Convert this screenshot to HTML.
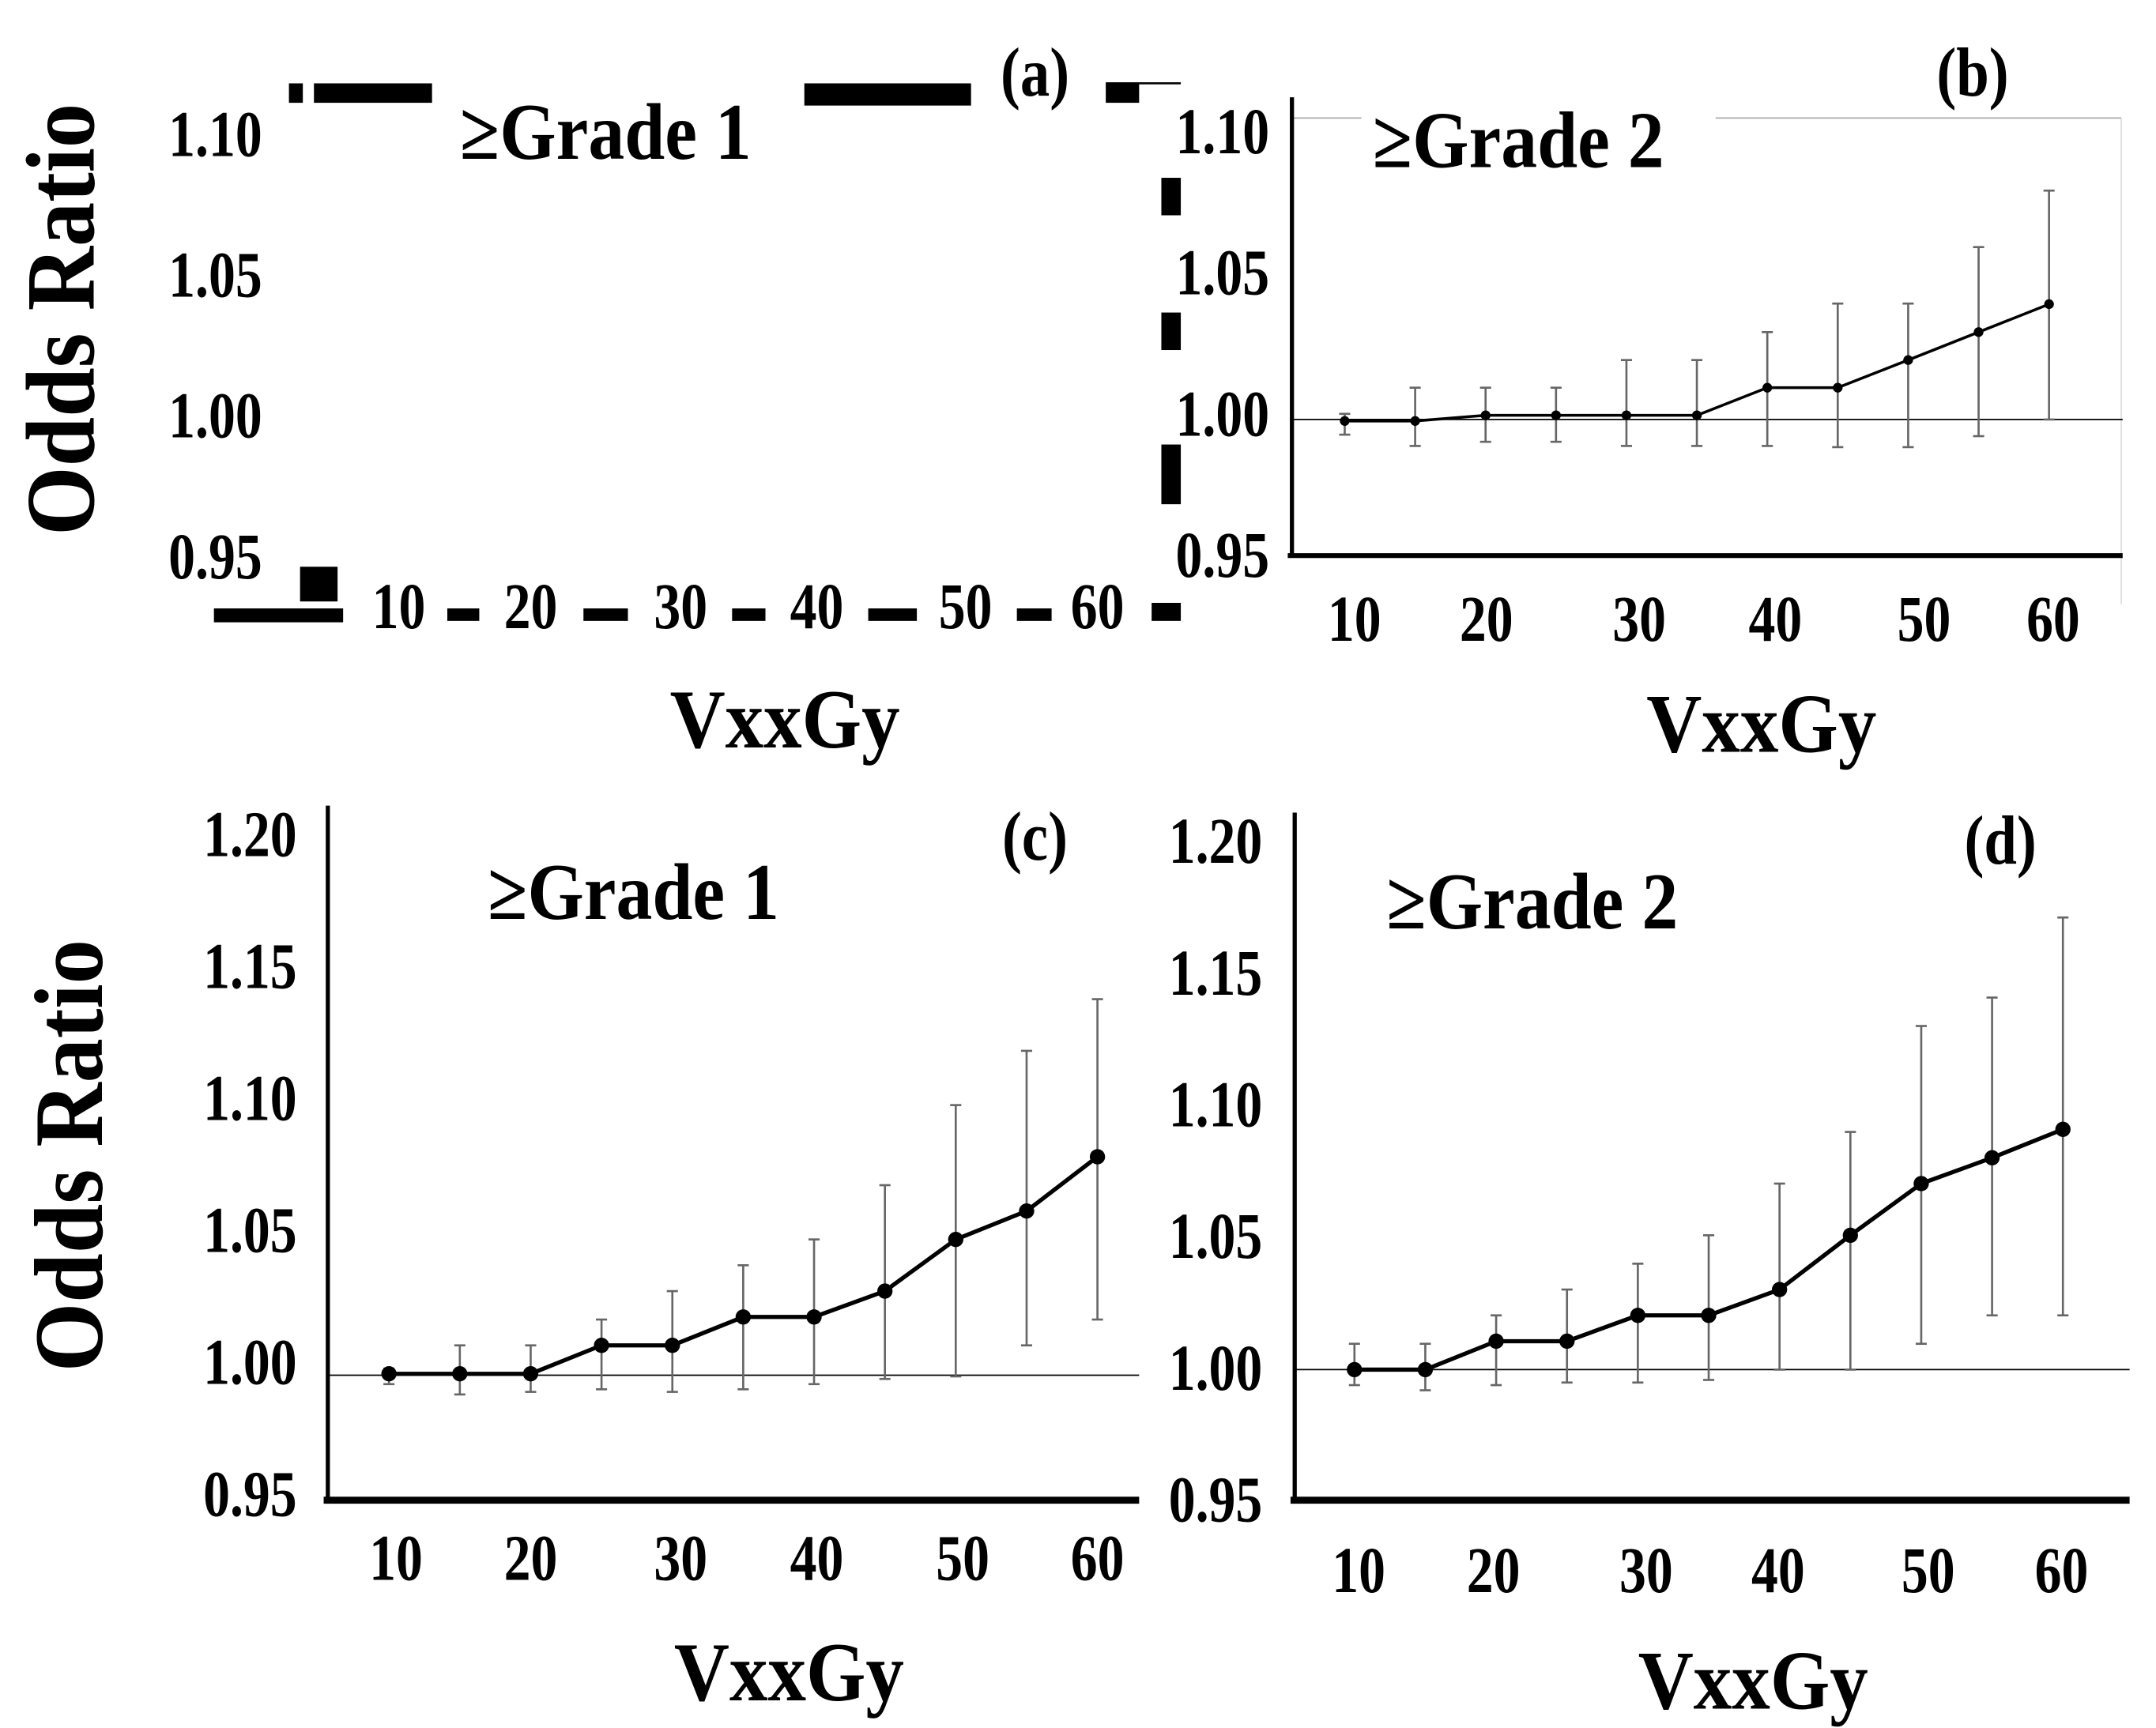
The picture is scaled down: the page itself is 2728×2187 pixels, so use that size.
<!DOCTYPE html>
<html><head><meta charset="utf-8"><style>
html,body{margin:0;padding:0;background:#fff;}
svg{display:block;}
text{font-family:"Liberation Serif",serif;font-weight:bold;fill:#000;}
</style></head><body>
<svg id="fig" width="2728" height="2187" viewBox="0 0 1552 1244" preserveAspectRatio="none" xmlns="http://www.w3.org/2000/svg">
<rect width="1552" height="1244" fill="#fff"/>
<g id="panelA">
  <rect x="208" y="60" width="10" height="14" fill="#000"/>
  <rect x="226" y="60" width="85" height="14" fill="#000"/>
  <rect x="579" y="60" width="120" height="16" fill="#000"/>
  <rect x="796" y="60" width="24" height="14" fill="#000"/>
  <line x1="796" y1="60" x2="850" y2="60" stroke="#000" stroke-width="1.5"/>
  <rect x="836" y="128" width="14" height="27" fill="#000"/>
  <rect x="836" y="225" width="14" height="27" fill="#000"/>
  <rect x="836" y="320" width="14" height="43" fill="#000"/>
  <rect x="829" y="434" width="21" height="13" fill="#000"/>
  <rect x="154" y="438" width="93" height="10" fill="#000"/>
  <rect x="216" y="408" width="27" height="25" fill="#000"/>
  <rect x="322" y="438" width="23" height="9" fill="#000"/>
  <rect x="420" y="438" width="32" height="9" fill="#000"/>
  <rect x="527" y="438" width="24" height="9" fill="#000"/>
  <rect x="625" y="438" width="35" height="9" fill="#000"/>
  <rect x="732" y="438" width="25" height="9" fill="#000"/>
</g>
<g id="layer"></g>
</svg>
<script>
// ---------- data ----------
const xCats = [10,15,20,25,30,35,40,45,50,55,60];
const xTickLabels = [10,20,30,40,50,60];
const yTicksAB = [0.95,1.00,1.05,1.10];
const yTicksCD = [0.95,1.00,1.05,1.10,1.15,1.20];
const meanB = [0.9995,0.9995,1.0014,1.0014,1.0014,1.0014,1.0107,1.0107,1.020,1.0294,1.0388];
const hiB   = [1.0019,1.0107,1.0107,1.0107,1.020,1.020,1.0294,1.039,1.039,1.058,1.077];
const loB   = [0.9949,0.9911,0.9925,0.9925,0.9911,0.9911,0.9911,0.9907,0.9907,0.9944,1.000];
const meanC = [1.000,1.000,1.000,1.011,1.011,1.022,1.022,1.032,1.052,1.063,1.084];
const hiC   = [1.002,1.011,1.011,1.021,1.032,1.042,1.052,1.073,1.104,1.125,1.145];
const loC   = [0.996,0.992,0.993,0.994,0.993,0.994,0.996,0.998,0.999,1.011,1.021];
const meanD = [1.000,1.000,1.011,1.011,1.021,1.021,1.031,1.052,1.072,1.082,1.093];
const hiD   = [1.010,1.010,1.021,1.031,1.041,1.052,1.072,1.092,1.133,1.144,1.175];
const loD   = [0.994,0.992,0.994,0.995,0.995,0.996,1.000,1.000,1.010,1.021,1.021];
const yTicksA = [0.95,1.00,1.05,1.10];

const NS="http://www.w3.org/2000/svg";
const layer=document.getElementById('layer');
function mk(tag,attrs,parent){const e=document.createElementNS(NS,tag);for(const k in attrs)e.setAttribute(k,attrs[k]);(parent||layer).appendChild(e);return e;}
function txt(str,x,y,size,parent,anchor,sx){
  const e=mk('text',{x:0,y:0,'font-size':size,'text-anchor':anchor||'middle','dominant-baseline':'central',transform:`translate(${x},${y}) scale(${sx||0.82},1)`},parent);
  e.textContent=str;return e;
}

// panel A labels (empty panel)
(function(){
  const g=document.getElementById('panelA');
  const yA=v=>401+(v-0.95)/0.15*(97-401);
  yTicksA.forEach(v=>{const t=txt(v.toFixed(2),155,yA(v),47,g);
    
    });
  const xs=[287,382,490,588,695,790];
  xTickLabels.forEach((v,i)=>{const t=txt(String(v),xs[i],437,47,g);
    
    });
  let t=txt('≥Grade 1',436,95,58,g,'middle',0.9);
  
  
  t=txt('(a)',745,52,50,g,'middle',0.85);
  
  
  t=txt('VxxGy',565,518,60,g,'middle',0.92);
  
  
  t=mk('text',{x:0,y:0,'font-size':64,'text-anchor':'middle','dominant-baseline':'central',transform:'translate(44,230) rotate(-90) scale(1,1.1)'},g);
  t.textContent='Odds Ratio';
  
  
})();

const panels=[
 {id:'b',axX:930,axTop:70,axB:400,axR:1528,x0:968,x1:1475,y1:302,k:2140,refY:302,ticks:yTicksAB,labX:880,labLo:400,labHi:95,labHiV:1.10,
  mean:meanB,hi:hiB,lo:loB,xl:[975,1070,1180,1278,1385,1478],xlY:446,title:'≥Grade 2',tx:1093,ty:101,lab:'(b)',lx:1420,ly:52,vx:1268,vy:521,r:3.5,lw:2,odds:null,grid:true},
 {id:'c',axX:236,axTop:580,axB:1080,axR:820,x0:280,x1:790,y1:989,k:1860,refY:990,ticks:yTicksCD,labX:180,labLo:1076,labHi:601,labHiV:1.20,
  mean:meanC,hi:hiC,lo:loC,xl:[285,382,490,588,693,790],xlY:1122,title:'≥Grade 1',tx:456,ty:642,lab:'(c)',lx:745,ly:602,vx:568,vy:1204,r:5.5,lw:3,odds:[50,832]},
 {id:'d',axX:932,axTop:585,axB:1080,axR:1533,x0:975,x1:1485,y1:986,k:1860,refY:986,ticks:yTicksCD,labX:875,labLo:1080,labHi:606,labHiV:1.20,
  mean:meanD,hi:hiD,lo:loD,xl:[978,1075,1185,1280,1388,1484],xlY:1131,title:'≥Grade 2',tx:1103,ty:649,lab:'(d)',lx:1440,ly:605,vx:1262,vy:1210,r:5.5,lw:3,odds:null}
];

panels.forEach(p=>{
  const g=mk('g',{});
  
  
  const xs=v=>p.x0+(v-10)/50*(p.x1-p.x0);
  const ys=v=>p.y1-(v-1)*p.k;
  const yl=v=>p.labLo+(v-0.95)/(p.labHiV-0.95)*(p.labHi-p.labLo);
  if(p.grid){
    let l=mk('line',{x1:p.axX,y1:85,x2:980,y2:85,stroke:'#aaa','stroke-width':1},g);
    
    
    l=mk('line',{x1:1235,y1:85,x2:1527,y2:85,stroke:'#aaa','stroke-width':1},g);
    
    
    l=mk('line',{x1:1527,y1:85,x2:1527,y2:435,stroke:'#ddd','stroke-width':1},g);
    
    
  }
  let ref=mk('line',{x1:p.axX,y1:p.refY,x2:p.axR,y2:p.refY,stroke:'#000','stroke-width':1},g);
  
  
  let ya=mk('line',{x1:p.axX,y1:p.axTop,x2:p.axX,y2:p.axB,stroke:'#000','stroke-width':3},g);
  
  
  let xa=mk('line',{x1:p.axX-3,y1:p.axB,x2:p.axR,y2:p.axB,stroke:'#000','stroke-width':p.id==='b'?3.5:5},g);
  
  
  xCats.forEach((c,i)=>{
    const x=xs(c);
    const eb=mk('g',{stroke:'#666','stroke-width':1.5},g);
    
    
    mk('line',{x1:x,y1:ys(p.hi[i]),x2:x,y2:ys(p.lo[i])},eb);
    mk('line',{x1:x-4,y1:ys(p.hi[i]),x2:x+4,y2:ys(p.hi[i])},eb);
    mk('line',{x1:x-4,y1:ys(p.lo[i]),x2:x+4,y2:ys(p.lo[i])},eb);
  });
  const pts=xCats.map((c,i)=>xs(c)+','+ys(p.mean[i])).join(' ');
  const pl=mk('polyline',{points:pts,fill:'none',stroke:'#000','stroke-width':p.lw},g);
  
  
  xCats.forEach((c,i)=>{
    const pt=mk('circle',{cx:xs(c),cy:ys(p.mean[i]),r:p.r,fill:'#000'},g);
    
    
  });
  p.ticks.forEach(v=>{
    const t=txt(v.toFixed(2),p.labX,yl(v),47,g);
    
    
  });
  xTickLabels.forEach((v,i)=>{
    const t=txt(String(v),p.xl[i],p.xlY,47,g);
    
    
  });
  let t=txt(p.title,p.tx,p.ty,58,g,'middle',0.9);
  
  
  t=txt(p.lab,p.lx,p.ly,50,g,'middle',0.85);
  
  
  t=txt('VxxGy',p.vx,p.vy,60,g,'middle',0.92);
  
  
  if(p.odds){
    t=mk('text',{x:0,y:0,'font-size':64,'text-anchor':'middle','dominant-baseline':'central',transform:`translate(${p.odds[0]},${p.odds[1]}) rotate(-90) scale(1,1.1)`},g);
    t.textContent='Odds Ratio';
    
    
  }
});
</script>
</body></html>
